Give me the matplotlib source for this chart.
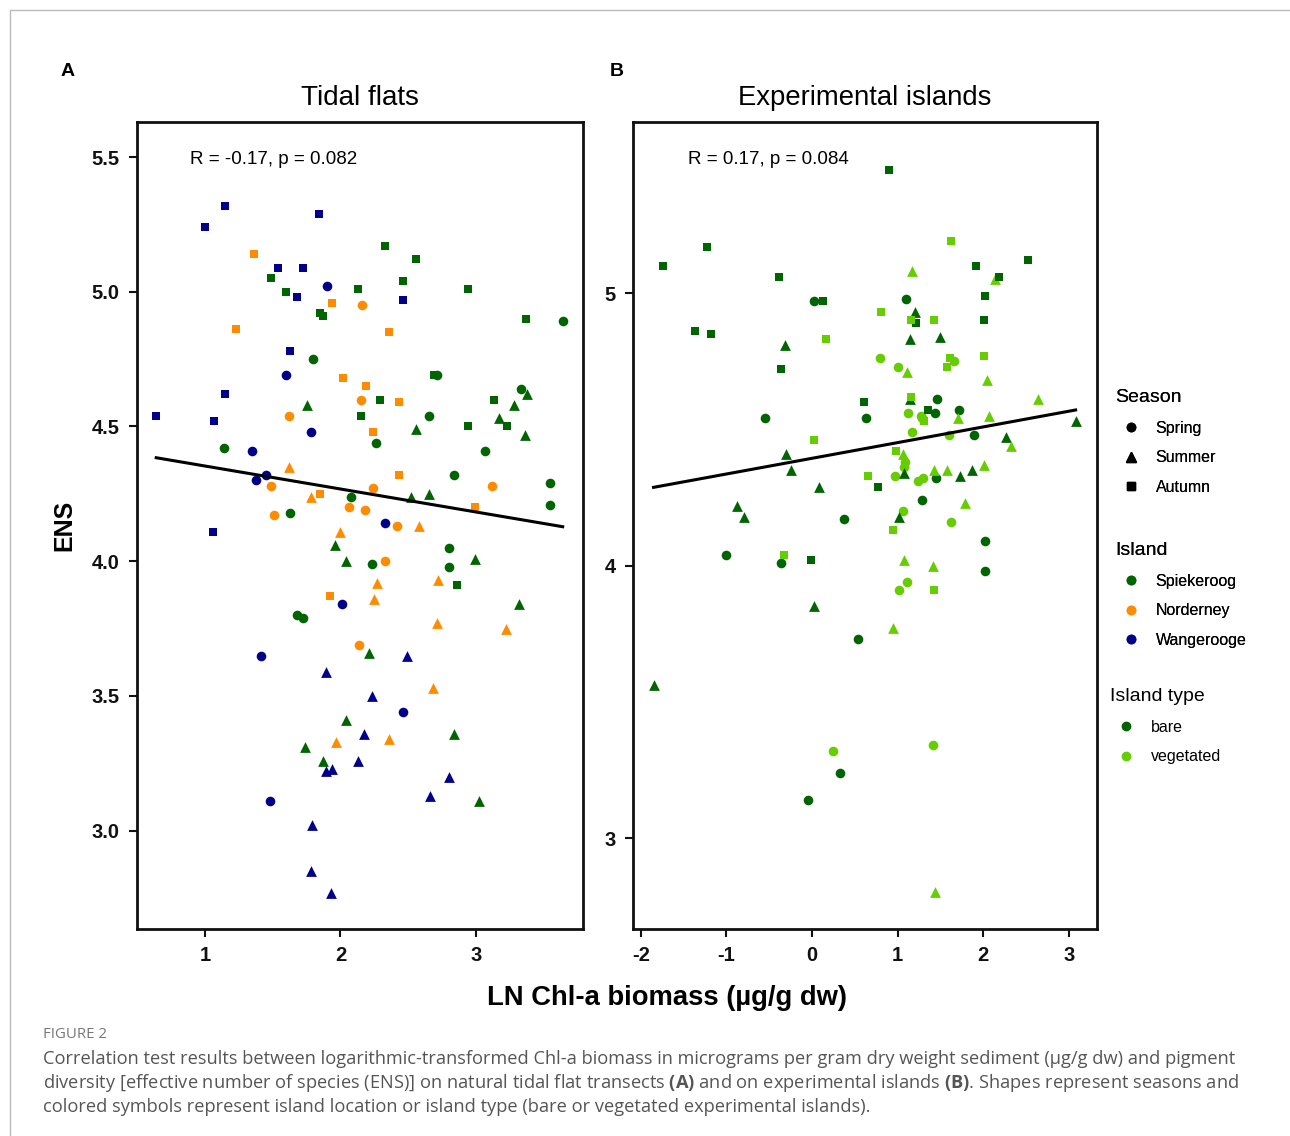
import numpy as np
import matplotlib
matplotlib.use("Agg")
import matplotlib.pyplot as plt
from matplotlib.lines import Line2D
from matplotlib.patches import Rectangle

plt.rcParams['font.family'] = ['Liberation Sans', 'DejaVu Sans']
plt.rcParams['mathtext.fontset'] = 'custom'
plt.rcParams['mathtext.rm'] = 'Open Sans'
plt.rcParams['mathtext.bf'] = 'Open Sans:bold'

# ---------------- data: panel A (tidal flats) ----------------
# island codes: S = Spiekeroog, N = Norderney, W = Wangerooge
a_spring_x = [1.90, 2.16, 1.80, 1.60, 3.64, 2.71, 3.33, 1.62, 2.15, 1.78, 1.14, 1.35, 1.45, 1.38,
              1.49, 2.08, 2.06, 2.18, 1.51, 1.63, 2.01, 1.68, 1.72, 2.14, 2.26, 2.65, 3.07, 2.84,
              2.24, 3.12, 3.55, 3.55, 2.33, 2.42, 2.80, 2.23, 2.33, 2.80, 1.41, 1.48, 2.46]
a_spring_y = [5.02, 4.95, 4.75, 4.69, 4.89, 4.69, 4.64, 4.54, 4.60, 4.48, 4.42, 4.41, 4.32, 4.30,
              4.28, 4.24, 4.20, 4.19, 4.17, 4.18, 3.84, 3.80, 3.79, 3.69, 4.44, 4.54, 4.41, 4.32,
              4.27, 4.28, 4.29, 4.21, 4.14, 4.13, 4.05, 3.99, 4.00, 3.98, 3.65, 3.11, 3.44]
a_spring_isl = ['W', 'N', 'S', 'W', 'S', 'S', 'S', 'N', 'N', 'W', 'S', 'W', 'W', 'W',
                'N', 'S', 'N', 'N', 'N', 'S', 'W', 'S', 'S', 'N', 'S', 'S', 'S', 'S',
                'N', 'N', 'S', 'S', 'W', 'N', 'S', 'S', 'N', 'S', 'W', 'W', 'W']

a_summer_x = [1.75, 1.62, 1.78, 2.00, 1.96, 2.04, 2.56, 3.38, 3.28, 3.17, 3.36, 2.52, 2.65, 2.58,
              2.99, 2.27, 2.72, 2.25, 3.32, 2.71, 3.22, 2.21, 1.89, 2.04, 2.17, 1.97, 1.74, 1.87,
              2.13, 1.94, 1.89, 1.79, 1.78, 1.93, 2.49, 2.68, 2.23, 2.36, 2.84, 2.80, 2.66, 3.02]
a_summer_y = [4.58, 4.35, 4.24, 4.11, 4.06, 4.00, 4.49, 4.62, 4.58, 4.53, 4.47, 4.24, 4.25, 4.13,
              4.01, 3.92, 3.93, 3.86, 3.84, 3.77, 3.75, 3.66, 3.59, 3.41, 3.36, 3.33, 3.31, 3.26,
              3.26, 3.23, 3.22, 3.02, 2.85, 2.77, 3.65, 3.53, 3.50, 3.34, 3.36, 3.20, 3.13, 3.11]
a_summer_isl = ['S', 'N', 'N', 'N', 'S', 'S', 'S', 'S', 'S', 'S', 'S', 'S', 'S', 'N',
                'S', 'N', 'N', 'N', 'S', 'N', 'N', 'S', 'W', 'S', 'W', 'N', 'S', 'S',
                'W', 'W', 'W', 'W', 'W', 'W', 'W', 'N', 'W', 'N', 'S', 'W', 'W', 'S']

a_autumn_x = [1.15, 1.00, 1.84, 1.36, 1.54, 1.72, 1.49, 1.60, 1.68, 2.13, 1.94, 1.85, 1.87, 1.23,
              1.63, 2.02, 2.33, 2.56, 2.46, 2.94, 2.46, 2.36, 3.37, 2.69, 2.19, 1.15, 0.64, 1.07,
              2.15, 1.85, 1.06, 1.92, 2.29, 2.43, 2.24, 2.94, 3.13, 3.23, 2.43, 2.99, 2.86]
a_autumn_y = [5.32, 5.24, 5.29, 5.14, 5.09, 5.09, 5.05, 5.00, 4.98, 5.01, 4.96, 4.92, 4.91, 4.86,
              4.78, 4.68, 5.17, 5.12, 5.04, 5.01, 4.97, 4.85, 4.90, 4.69, 4.65, 4.62, 4.54, 4.52,
              4.54, 4.25, 4.11, 3.87, 4.60, 4.59, 4.48, 4.50, 4.60, 4.50, 4.32, 4.20, 3.91]
a_autumn_isl = ['W', 'W', 'W', 'N', 'W', 'W', 'S', 'S', 'W', 'S', 'N', 'S', 'S', 'N',
                'W', 'N', 'S', 'S', 'S', 'S', 'W', 'N', 'S', 'S', 'N', 'W', 'W', 'W',
                'S', 'N', 'W', 'N', 'S', 'N', 'N', 'S', 'S', 'S', 'N', 'N', 'S']

# fitted regression line of panel A
a_fit_x = [0.64, 3.64]
a_fit_y = [4.384, 4.128]

# ---------------- data: panel B (experimental islands) ----------------
# island type codes: B = bare, V = vegetated
b_spring_x = [0.03, 1.10, 0.79, 1.00, 1.66, 0.63, -0.55, 0.38, -1.00, -0.36, 0.54, 1.46, 1.12,
              1.44, 1.27, 1.29, 1.72, 1.17, 1.60, 1.89, 1.09, 1.07, 0.97, 1.45, 1.24, 1.30,
              1.29, 1.06, 1.63, 2.02, 2.02, 1.02, 1.11, 0.25, 1.42, 0.33, -0.04]
b_spring_y = [4.97, 4.98, 4.76, 4.73, 4.75, 4.54, 4.54, 4.17, 4.04, 4.01, 3.73, 4.61, 4.56,
              4.56, 4.55, 4.54, 4.57, 4.49, 4.48, 4.48, 4.38, 4.36, 4.33, 4.32, 4.31, 4.32,
              4.24, 4.20, 4.16, 4.09, 3.98, 3.91, 3.94, 3.32, 3.34, 3.24, 3.14]
b_spring_typ = ['B', 'B', 'V', 'V', 'V', 'B', 'B', 'B', 'B', 'B', 'B', 'B', 'V',
                'B', 'V', 'V', 'B', 'V', 'V', 'B', 'V', 'V', 'V', 'B', 'V', 'V',
                'B', 'V', 'V', 'B', 'B', 'V', 'V', 'V', 'V', 'B', 'B']

b_summer_x = [-0.31, 2.14, 1.17, 1.20, 1.14, 1.50, 1.11, 2.04, -0.30, -0.24, 0.08, -0.87,
              -0.79, 0.02, 1.14, 1.71, 2.07, 2.64, 3.08, 2.27, 2.32, 1.06, 1.07, 1.43, 1.58,
              1.73, 1.87, 2.01, 1.79, 1.02, 1.07, 1.41, 0.95, -1.85, 1.44]
b_summer_y = [4.81, 5.05, 5.08, 4.93, 4.83, 4.84, 4.71, 4.68, 4.41, 4.35, 4.29, 4.22,
              4.18, 3.85, 4.61, 4.54, 4.55, 4.61, 4.53, 4.47, 4.44, 4.41, 4.34, 4.35, 4.35,
              4.33, 4.35, 4.37, 4.23, 4.18, 4.02, 4.00, 3.77, 3.56, 2.80]
b_summer_typ = ['B', 'V', 'V', 'B', 'B', 'B', 'V', 'V', 'B', 'B', 'B', 'B',
                'B', 'B', 'B', 'V', 'V', 'V', 'B', 'B', 'V', 'V', 'B', 'V', 'V',
                'B', 'B', 'V', 'V', 'B', 'V', 'V', 'V', 'B', 'V']

b_autumn_x = [-1.23, -1.74, -0.39, 0.13, -1.37, -1.18, 0.16, -0.36, 0.90, 1.63, 2.52, 1.92,
              2.18, 2.02, 0.81, 1.16, 1.21, 1.43, 2.01, 1.61, 1.58, 2.01, 0.61, 0.02, 0.65,
              -0.33, -0.01, 1.16, 1.36, 1.31, 0.98, 0.77, 0.95, 1.43]
b_autumn_y = [5.17, 5.10, 5.06, 4.97, 4.86, 4.85, 4.83, 4.72, 5.45, 5.19, 5.12, 5.10,
              5.06, 4.99, 4.93, 4.90, 4.89, 4.90, 4.90, 4.76, 4.73, 4.77, 4.60, 4.46, 4.33,
              4.04, 4.02, 4.62, 4.57, 4.53, 4.42, 4.29, 4.13, 3.91]
b_autumn_typ = ['B', 'B', 'B', 'B', 'B', 'B', 'V', 'B', 'B', 'V', 'B', 'B',
                'B', 'B', 'V', 'V', 'B', 'V', 'B', 'V', 'V', 'V', 'B', 'V', 'V',
                'V', 'B', 'V', 'B', 'V', 'V', 'B', 'V', 'V']

# fitted regression line of panel B
b_fit_x = [-1.85, 3.08]
b_fit_y = [4.287, 4.571]

stat_a = "R = -0.17, p = 0.082"
stat_b = "R = 0.17, p = 0.084"

a_xticks = [1, 2, 3]
a_xticklabels = ["1", "2", "3"]
a_yticks = [3.0, 3.5, 4.0, 4.5, 5.0, 5.5]
a_yticklabels = ["3.0", "3.5", "4.0", "4.5", "5.0", "5.5"]
b_xticks = [-2, -1, 0, 1, 2, 3]
b_xticklabels = ["-2", "-1", "0", "1", "2", "3"]
b_yticks = [3, 4, 5]
b_yticklabels = ["3", "4", "5"]

island_names = {'S': 'Spiekeroog', 'N': 'Norderney', 'W': 'Wangerooge'}
island_colors = {'S': '#006400', 'N': '#FF8C00', 'W': '#00008B'}
type_names = {'B': 'bare', 'V': 'vegetated'}
type_colors = {'B': '#006400', 'V': '#66CD00'}
season_markers = {'Spring': 'o', 'Summer': '^', 'Autumn': 's'}
marker_sizes = {'o': 48, '^': 60, 's': 40}

W, H = 1290, 1136
fig = plt.figure(figsize=(W / 100, H / 100), dpi=100)


def fx(px):
    return px / W


def fy(py):
    return 1 - py / H


axA = fig.add_axes([fx(137), fy(929), fx(583) - fx(137), fy(122) - fy(929)])
axB = fig.add_axes([fx(633), fy(929), fx(1097) - fx(633), fy(122) - fy(929)])


def draw_panel(ax, groups, colors, fit_x, fit_y):
    for season, xs, ys, codes in groups:
        m = season_markers[season]
        xs = np.asarray(xs); ys = np.asarray(ys); codes = np.asarray(codes)
        for code, col in colors.items():
            sel = codes == code
            if sel.any():
                ax.scatter(xs[sel], ys[sel], marker=m, s=marker_sizes[m], c=col,
                           linewidths=0, zorder=3)
    ax.plot(fit_x, fit_y, color='black', lw=2.2, zorder=4)


draw_panel(axA, [('Spring', a_spring_x, a_spring_y, a_spring_isl),
                 ('Summer', a_summer_x, a_summer_y, a_summer_isl),
                 ('Autumn', a_autumn_x, a_autumn_y, a_autumn_isl)], island_colors,
           a_fit_x, a_fit_y)
draw_panel(axB, [('Spring', b_spring_x, b_spring_y, b_spring_typ),
                 ('Summer', b_summer_x, b_summer_y, b_summer_typ),
                 ('Autumn', b_autumn_x, b_autumn_y, b_autumn_typ)], type_colors,
           b_fit_x, b_fit_y)

axA.set_xlim(0.498, 3.79)
axA.set_ylim(2.635, 5.63)
axB.set_xlim(-2.09, 3.33)
axB.set_ylim(2.666, 5.628)

axA.set_xticks(a_xticks, a_xticklabels, fontweight='bold')
axA.set_yticks(a_yticks, a_yticklabels, fontweight='bold')
axB.set_xticks(b_xticks, b_xticklabels, fontweight='bold')
axB.set_yticks(b_yticks, b_yticklabels, fontweight='bold')

for ax in (axA, axB):
    for sp in ax.spines.values():
        sp.set_linewidth(2)
        sp.set_color('#111111')
    ax.tick_params(direction='out', length=5.5, width=1.5, labelsize=14.5, pad=7, colors='#111111')

axA.set_title("Tidal flats", fontsize=20, pad=12)
axB.set_title("Experimental islands", fontsize=19.8, pad=12)

axA.text(0.118, 0.954, stat_a, transform=axA.transAxes, fontsize=13.5, va='center', ha='left')
axB.text(0.118, 0.954, stat_b, transform=axB.transAxes, fontsize=13.5, va='center', ha='left')

axA.set_ylabel("ENS", fontsize=18, fontweight='bold')
axA.yaxis.set_label_coords((76 - 137) / 446, 0.5)

fig.text(fx(667), fy(998), "LN Chl-a biomass (\u00b5g/g dw)", fontsize=19.7, fontweight='bold',
         ha='center', va='center')

fig.text(fx(68), fy(72), "A", fontsize=14, fontweight='bold', ha='center', va='center')
fig.text(fx(617), fy(72), "B", fontsize=14, fontweight='bold', ha='center', va='center')

# legends


def make_legend(title, labels, handles, x_px, y_px):
    leg = fig.legend(handles, labels, title=title, loc='upper left',
                     bbox_to_anchor=(fx(x_px), fy(y_px)), frameon=False, fontsize=11.5,
                     title_fontsize=14, borderpad=0, borderaxespad=0, handlelength=2.0,
                     handletextpad=0.55, labelspacing=0.92)
    leg._legend_box.align = 'left'
    return leg


season_handles = [Line2D([], [], ls='', marker=season_markers[s], color='black',
                         markersize=6 if s != 'Summer' else 7) for s in season_markers]
leg1 = make_legend("Season", list(season_markers.keys()), season_handles, 1115, 389)
fig.add_artist(leg1)
isl_handles = [Line2D([], [], ls='', marker='o', color=island_colors[k], markersize=6)
               for k in island_names]
leg2 = make_legend("Island", [island_names[k] for k in island_names], isl_handles, 1115, 542)
fig.add_artist(leg2)
typ_handles = [Line2D([], [], ls='', marker='o', color=type_colors[k], markersize=6)
               for k in type_names]
leg3 = make_legend("Island type", [type_names[k] for k in type_names], typ_handles, 1110, 688)

# caption
cap_font = 'Open Sans'
fig.text(fx(43), fy(1035), "FIGURE 2", fontsize=10.8, color='#777777', family=cap_font,
         ha='left', va='center')
cap_lines = [
    "Correlation test results between logarithmic-transformed Chl-a biomass in micrograms per gram dry weight sediment (\u03bcg/g dw) and pigment",
    "diversity [effective number of species (ENS)] on natural tidal flat transects $\\mathbf{(A)}$ and on experimental islands $\\mathbf{(B)}$. Shapes represent seasons and",
    "colored symbols represent island location or island type (bare or vegetated experimental islands).",
]
for i, line in enumerate(cap_lines):
    fig.text(fx(43), fy(1059 + 24 * i), line, fontsize=13.18, color='#555555', family=cap_font,
             ha='left', va='center')

# outer frame
fig.add_artist(Rectangle((fx(10), -0.05), 1.1, fy(10) + 0.05, transform=fig.transFigure,
                         fill=False, edgecolor='#bbbbbb', lw=1))

fig.savefig("out.png", dpi=100)
